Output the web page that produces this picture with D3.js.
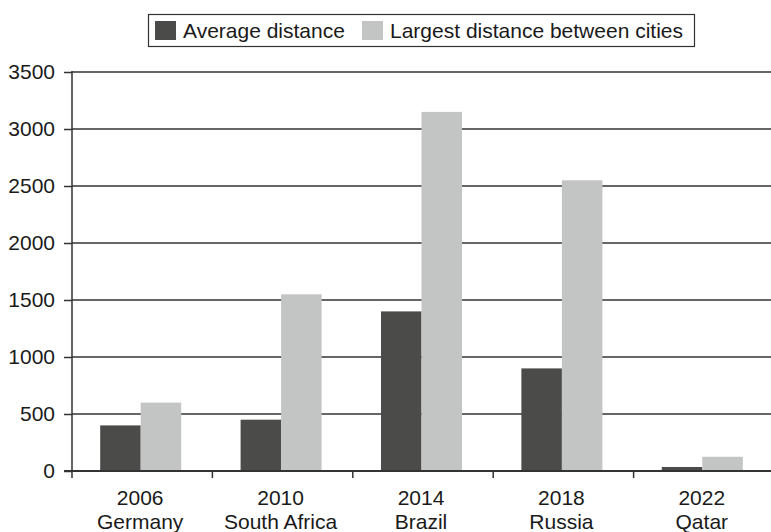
<!DOCTYPE html>
<html>
<head>
<meta charset="utf-8">
<script src="https://cdn.jsdelivr.net/npm/d3@7/dist/d3.min.js"></script>
<style>
  html, body { margin: 0; padding: 0; background: #fff; }
  svg { display: block; }
  text { font-family: "Liberation Sans", Arial, Helvetica, sans-serif; fill: #1a1a1a; }
</style>
</head>
<body>
<svg id="chart" width="771" height="532"></svg>
<script>
// World Cup hosts: distances between host cities (km)
const years = ["2006", "2010", "2014", "2018", "2022"];
const hosts = ["Germany", "South Africa", "Brazil", "Russia", "Qatar"];
const seriesNames = ["Average distance", "Largest distance between cities"];
const averageDistance = [400, 450, 1400, 900, 35];
const largestDistance = [600, 1550, 3150, 2550, 125];
const yTicks = [0, 500, 1000, 1500, 2000, 2500, 3000, 3500];
const seriesColors = ["#4b4b49", "#c3c5c4"];

const svg = d3.select("#chart");
const fontSize = 21;
const lineColor = "#333";

const plotLeft = 72, plotRight = 774, plotTop = 72, plotBottom = 471;

const x0 = d3.scaleBand().domain(years).range([plotLeft, plotRight]).paddingInner(0).paddingOuter(0);
const x1 = d3.scaleBand().domain(seriesNames).range([0, x0.bandwidth()]).paddingInner(0).paddingOuter(0.733);
const y = d3.scaleLinear().domain([0, 3500]).range([plotBottom, plotTop]);
const color = d3.scaleOrdinal().domain(seriesNames).range(seriesColors);

// horizontal gridlines
svg.append("g")
  .selectAll("line")
  .data(yTicks)
  .join("line")
  .attr("x1", plotLeft)
  .attr("x2", 771)
  .attr("y1", d => y(d))
  .attr("y2", d => y(d))
  .attr("stroke", lineColor)
  .attr("stroke-width", 1.5);

// bars
const rows = years.map((yr, i) => ({ year: yr, values: [averageDistance[i], largestDistance[i]] }));
svg.append("g")
  .selectAll("g")
  .data(rows)
  .join("g")
  .attr("transform", d => `translate(${x0(d.year) - 1.5},0)`)
  .selectAll("rect")
  .data(d => d.values.map((v, j) => ({ key: seriesNames[j], value: v })))
  .join("rect")
  .attr("x", d => x1(d.key))
  .attr("width", x1.bandwidth())
  .attr("y", d => y(d.value))
  .attr("height", d => y(0) - y(d.value))
  .attr("fill", d => color(d.key));

// y axis
const yAxis = svg.append("g")
  .attr("transform", `translate(${plotLeft},0)`)
  .call(d3.axisLeft(y).tickValues(yTicks).tickSize(8).tickPadding(9).tickFormat(d3.format("d")));
yAxis.select(".domain").remove();
yAxis.selectAll(".tick line").attr("stroke", lineColor).attr("stroke-width", 1.5);
yAxis.selectAll(".tick text").attr("font-size", fontSize).attr("font-family", null).attr("fill", "#1a1a1a");
yAxis.attr("font-family", null).attr("font-size", null);
yAxis.append("line")
  .attr("x1", 0).attr("x2", 0)
  .attr("y1", plotTop - 1).attr("y2", plotBottom + 7)
  .attr("stroke", lineColor).attr("stroke-width", 1.5);

// x axis: baseline with boundary ticks between categories
svg.append("line")
  .attr("x1", plotLeft - 8).attr("x2", 771)
  .attr("y1", y(0)).attr("y2", y(0))
  .attr("stroke", lineColor).attr("stroke-width", 1.8);
const boundaries = years.slice(1).map(yr => x0(yr));
svg.append("g")
  .selectAll("line")
  .data(boundaries)
  .join("line")
  .attr("x1", d => d).attr("x2", d => d)
  .attr("y1", y(0)).attr("y2", y(0) + 7)
  .attr("stroke", lineColor).attr("stroke-width", 1.5);

// category labels (year + host country)
const cx = d => x0(d.year) + x0.bandwidth() / 2 - 2;
const labels = svg.append("g")
  .selectAll("text")
  .data(years.map((yr, i) => ({ year: yr, host: hosts[i] })))
  .join("text")
  .attr("text-anchor", "middle")
  .attr("font-size", fontSize);
labels.append("tspan").attr("x", cx).attr("y", 505).text(d => d.year);
labels.append("tspan").attr("x", cx).attr("y", 529).text(d => d.host);

// legend
const legend = svg.append("g");
legend.append("rect")
  .attr("x", 148.5).attr("y", 14.5).attr("width", 546).attr("height", 32)
  .attr("fill", "#fff").attr("stroke", "#333").attr("stroke-width", 1.2);
const legendX = [155, 362];
seriesNames.forEach((name, i) => {
  legend.append("rect")
    .attr("x", legendX[i]).attr("y", 21).attr("width", 21).attr("height", 19)
    .attr("fill", color(name));
  legend.append("text")
    .attr("x", legendX[i] + 28).attr("y", 38)
    .attr("font-size", fontSize)
    .text(name);
});
</script>
</body>
</html>
